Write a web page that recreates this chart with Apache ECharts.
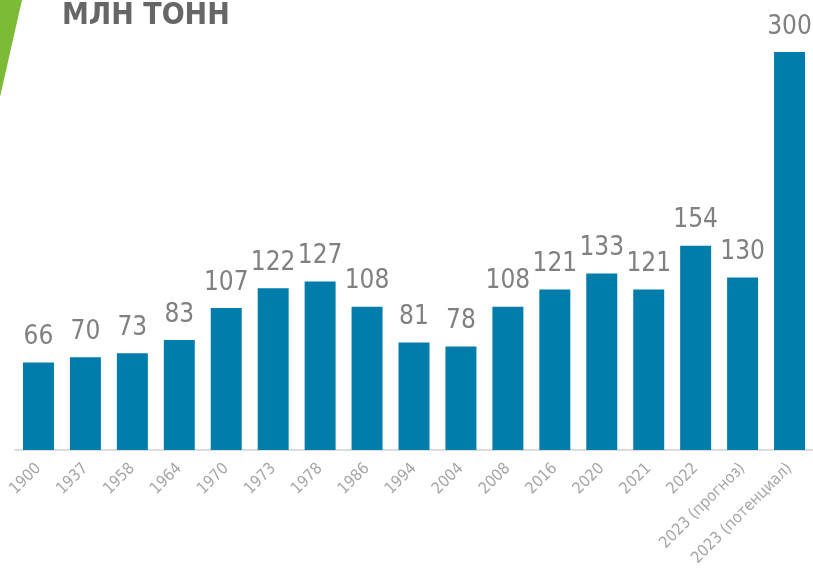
<!DOCTYPE html>
<html>
<head>
<meta charset="utf-8">
<script src="https://cdn.jsdelivr.net/npm/echarts@6/dist/echarts.min.js"></script>
<style>
html, body { margin: 0; padding: 0; background: #fff; }
#chart { width: 813px; height: 574px; }
</style>
</head>
<body>
<div id="chart"></div>
<script>
// годы / категории
var years = ['1900', '1937', '1958', '1964', '1970', '1973', '1978', '1986', '1994', '2004',
             '2008', '2016', '2020', '2021', '2022', '2023 (прогноз)', '2023 (потенциал)'];
// млн тонн
var values = [66, 70, 73, 83, 107, 122, 127, 108, 81, 78, 108, 121, 133, 121, 154, 130, 300];

var fontCond = '"DejaVu Sans Condensed", "Roboto", sans-serif';

var myChart = echarts.init(document.getElementById('chart'));
var option = {
    animation: false,
    grid: { left: 15, right: 0, top: 52, bottom: 124, outerBoundsMode: 'none' },
    graphic: [
        {
            type: 'polygon',
            shape: { points: [[0, 0], [22, 0], [0, 97]] },
            style: { fill: '#7cbb35' }
        },
        {
            type: 'text',
            left: 62, top: 1,
            style: {
                text: 'МЛН ТОНН',
                fill: '#666666',
                font: 'bold 30px ' + fontCond
            }
        }
    ],
    xAxis: {
        type: 'category',
        data: years,
        axisTick: { show: false },
        axisLine: { lineStyle: { color: '#dcdcdc', width: 2 } },
        axisLabel: {
            rotate: 45,
            interval: 0,
            margin: 16,
            color: '#a6a6a6',
            fontSize: 16,
            fontFamily: fontCond
        }
    },
    yAxis: {
        type: 'value',
        min: 0,
        max: 300,
        show: false,
        splitLine: { show: false }
    },
    series: [{
        type: 'bar',
        data: values,
        barWidth: '66%',
        itemStyle: { color: '#017dab' },
        label: {
            show: true,
            position: 'top',
            distance: 12,
            color: '#808080',
            fontSize: 26,
            fontFamily: fontCond
        }
    }]
};
myChart.setOption(option);
</script>
</body>
</html>
